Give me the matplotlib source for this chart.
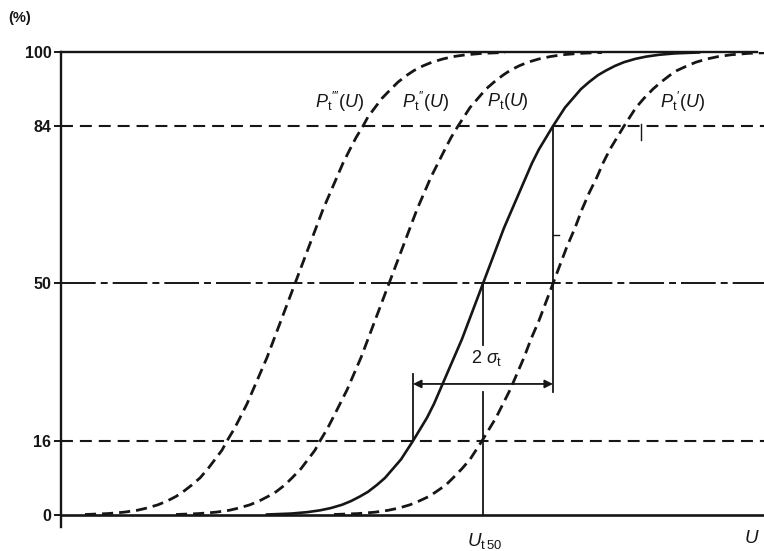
import matplotlib.pyplot as plt

plt.rcParams['lines.scale_dashes'] = False
plt.rcParams['mathtext.fontset'] = 'custom'
plt.rcParams['mathtext.rm'] = 'Liberation Sans'
plt.rcParams['mathtext.it'] = 'Liberation Sans:italic'
plt.rcParams['font.family'] = ['Liberation Sans', 'DejaVu Sans']

# === data ===
# cumulative percentage levels, shared by all four curves
percent = [0.1, 0.3, 0.6, 1, 1.5, 2.2, 3, 4, 5, 6.5, 8, 10, 12, 14, 16, 18.5,
           21, 24, 27, 30.5, 34, 38, 42, 46, 50, 54, 58, 62, 66, 69.5, 73, 76,
           79, 81.5, 84, 86, 88, 90, 92, 93.5, 95, 96, 97, 97.8, 98.5, 99,
           99.4, 99.7, 99.9]

# U position of each curve at those levels (arbitrary units)
u_pt3 = [2.4, 4.7, 6.3, 7.6, 8.6, 9.7, 10.6, 11.5, 12.2, 13.1, 13.9, 14.7,
         15.4, 16.1, 16.6, 17.3, 17.9, 18.6, 19.2, 19.9, 20.6, 21.3, 22.0, 22.7,
         23.4,
         24.1, 24.8, 25.5, 26.2, 26.9, 27.6, 28.2, 28.9, 29.5, 30.2, 30.7, 31.4,
         32.1, 33.0, 33.7, 34.6, 35.3, 36.2, 37.1, 38.2, 39.2, 40.5, 42.1, 44.4]
u_pt2 = [11.5, 13.8, 15.5, 16.8, 17.8, 18.9, 19.8, 20.7, 21.5, 22.4, 23.1, 24.0,
         24.7, 25.4, 25.9, 26.6, 27.2, 27.9, 28.6, 29.3, 30.0, 30.7, 31.4, 32.1,
         32.8,
         33.5, 34.2, 34.9, 35.6, 36.3, 37.0, 37.7, 38.4, 39.0, 39.7, 40.3, 40.9,
         41.7, 42.5, 43.3, 44.2, 44.9, 45.8, 46.7, 47.8, 48.9, 50.1, 51.8, 54.1]
u_pt = [20.6, 23.0, 24.6, 25.9, 27.0, 28.1, 29.0, 29.9, 30.7, 31.6, 32.4, 33.2,
        34.0, 34.6, 35.2, 35.9, 36.6, 37.3, 37.9, 38.6, 39.3, 40.1, 40.8, 41.5,
        42.2,
        42.9, 43.6, 44.3, 45.1, 45.8, 46.5, 47.1, 47.8, 48.5, 49.2, 49.8, 50.4,
        51.2, 52.0, 52.8, 53.7, 54.5, 55.4, 56.3, 57.4, 58.5, 59.8, 61.4, 63.8]
u_pt1 = [27.3, 29.7, 31.4, 32.7, 33.8, 34.9, 35.8, 36.8, 37.5, 38.5, 39.2, 40.1,
         40.9, 41.5, 42.1, 42.8, 43.5, 44.2, 44.9, 45.6, 46.3, 47.0, 47.8, 48.5,
         49.2,
         49.9, 50.6, 51.4, 52.1, 52.8, 53.6, 54.2, 54.9, 55.6, 56.3, 56.9, 57.5,
         58.3, 59.2, 60.0, 60.9, 61.6, 62.6, 63.5, 64.6, 65.7, 67.0, 68.7, 71.1]

y_ticks = [0, 16, 50, 84, 100]
u_t50 = 42.2      # 50 % point of Pt(U)
u_16 = 35.2       # 16 % point of Pt(U)
u_84 = 49.2       # 84 % point of Pt(U)

curve_labels = [(25.4, r'$P_{\rm t}{}^{\prime\prime\prime}(U)$'),
                (34.1, r'$P_{\rm t}{}^{\prime\prime}(U)$'),
                (42.6, r'$P_{\rm t}(U)$'),
                (59.9, r'$P_{\rm t}{}^{\prime}(U)$')]

U_MAX = 70.3
INK = '#161616'

fig = plt.figure(figsize=(7.64, 5.51), dpi=100, facecolor='white')
ax = fig.add_axes([61 / 764, 24 / 551, 703 / 764, 475 / 551])
ax.set_xlim(0, U_MAX)
ax.set_ylim(-2.6, 100)

for side in ('top', 'right', 'bottom'):
    ax.spines[side].set_visible(False)
ax.spines['left'].set_linewidth(1.7)
ax.spines['left'].set_color(INK)

ax.set_xticks([])
ax.set_yticks(y_ticks)
ax.set_yticklabels([str(v) for v in y_ticks], fontweight='bold', fontsize=11.5)
ax.tick_params(axis='y', direction='out', length=5, width=1.4, pad=2, colors=INK)

# frame lines at 0 and 100
ax.plot([0, U_MAX], [0, 0], color=INK, lw=1.9, clip_on=False)
ax.plot([0, 69.6], [100, 100], color=INK, lw=1.7, clip_on=False)

# reference levels
dash_h = (0, (8.6, 5))
ax.plot([0, U_MAX], [84, 84], color=INK, lw=1.5, ls=dash_h)
ax.plot([0, U_MAX], [16, 16], color=INK, lw=1.5, ls=dash_h)
ax.plot([0, U_MAX], [50, 50], color=INK, lw=1.4, ls=(0, (25, 3.6, 5, 3.6)))

# distribution curves
dash_c = (0, (8, 4.3))
ax.plot(u_pt3, percent, color=INK, lw=2.0, ls=dash_c)
ax.plot(u_pt2, percent, color=INK, lw=2.0, ls=dash_c)
ax.plot(u_pt, percent, color=INK, lw=1.9)
ax.plot(u_pt1, percent, color=INK, lw=2.0, ls=dash_c)

# construction lines for 2 sigma
ax.plot([u_t50, u_t50], [50, 36.7], color=INK, lw=1.3)
ax.plot([u_t50, u_t50], [26.6, 0], color=INK, lw=1.3)
ax.plot([u_16, u_16], [30.5, 16], color=INK, lw=1.3)
ax.plot([u_84, u_84], [84, 26.6], color=INK, lw=1.3)
ax.plot([u_84, u_84 + 0.6], [60.5, 60.5], color=INK, lw=1.0)
ax.plot([58.0, 58.0], [84.5, 81.0], color=INK, lw=1.0)

ax.annotate('', xy=(u_84, 28.3), xytext=(u_16, 28.3),
            arrowprops=dict(arrowstyle='<|-|>', color=INK, lw=1.3,
                            mutation_scale=12, shrinkA=0, shrinkB=0))
ax.text(42.6, 34.0, r'2 $\sigma_{\rm t}$', fontsize=13, ha='center', va='center',
        color=INK)

for x, lab in curve_labels:
    ax.text(x, 89.2, lab, fontsize=13, ha='left', va='center', color=INK)

ax.text(42.4, -5.6, r'$U_{\rm t\,50}$', fontsize=13.5, ha='center', va='center',
        color=INK, clip_on=False)
ax.text(69.1, -5.0, r'$U$', fontsize=13.5, ha='center', va='center',
        color=INK, clip_on=False)
fig.text(8 / 764, 1 - 18 / 551, '(%)', fontsize=10.5, fontweight='bold',
         va='center', ha='left', color=INK)

fig.savefig('out.png', dpi=100, facecolor='white')
